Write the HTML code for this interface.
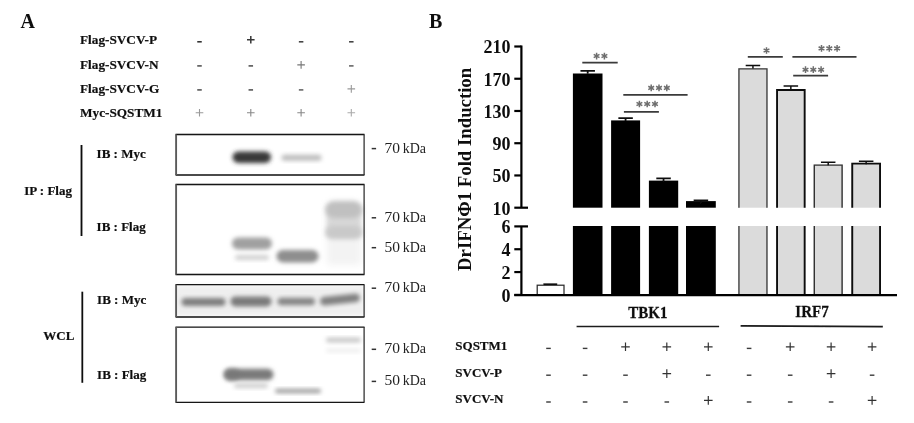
<!DOCTYPE html>
<html><head><meta charset="utf-8"><style>
html,body{margin:0;padding:0;background:#fff;width:914px;height:423px;overflow:hidden}
svg{display:block}
</style></head><body>
<svg width="914" height="423" viewBox="0 0 914 423">
<defs>
<filter id="b1" x="-50%" y="-50%" width="200%" height="200%"><feGaussianBlur stdDeviation="2.0"/></filter>
<filter id="b2" x="-50%" y="-50%" width="200%" height="200%"><feGaussianBlur stdDeviation="2.4"/></filter>
<filter id="b3" x="-50%" y="-50%" width="200%" height="200%"><feGaussianBlur stdDeviation="3.5"/></filter>
<filter id="s" x="-10%" y="-10%" width="120%" height="120%"><feGaussianBlur stdDeviation="0.6"/></filter>
</defs>
<rect width="914" height="423" fill="#fff"/>
<g filter="url(#s)">
<text x="20.5" y="28" font-family="Liberation Serif" font-weight="bold" font-size="20" text-anchor="start" fill="#111" >A</text>
<text x="429" y="28" font-family="Liberation Serif" font-weight="bold" font-size="20" text-anchor="start" fill="#111" >B</text>
<text transform="translate(80,44.4) scale(1,1.0001)" font-family="Liberation Serif" font-weight="bold" font-size="13.25" text-anchor="start" fill="#111" stroke="#111" stroke-width="0.2">Flag-SVCV-P</text>
<text transform="translate(80,68.7) scale(1,1.0001)" font-family="Liberation Serif" font-weight="bold" font-size="13.25" text-anchor="start" fill="#111" stroke="#111" stroke-width="0.2">Flag-SVCV-N</text>
<text transform="translate(80,93.0) scale(1,1.0001)" font-family="Liberation Serif" font-weight="bold" font-size="13.25" text-anchor="start" fill="#111" stroke="#111" stroke-width="0.2">Flag-SVCV-G</text>
<text transform="translate(80,117.3) scale(1,1.0001)" font-family="Liberation Serif" font-weight="bold" font-size="13.25" text-anchor="start" fill="#111" stroke="#111" stroke-width="0.2">Myc-SQSTM1</text>
<path d="M197.25,41.8H201.75" stroke="#333" stroke-width="1.6" fill="none"/>
<path d="M247.0,39.8H254.60000000000002M250.8,36.0V43.599999999999994" stroke="#383838" stroke-width="1.5" fill="none"/>
<path d="M298.85,41.8H303.35" stroke="#444" stroke-width="1.6" fill="none"/>
<path d="M349.05,41.8H353.55" stroke="#444" stroke-width="1.6" fill="none"/>
<path d="M197.25,65.9H201.75" stroke="#555" stroke-width="1.6" fill="none"/>
<path d="M248.55,65.9H253.05" stroke="#555" stroke-width="1.6" fill="none"/>
<path d="M297.3,64.9H304.90000000000003M301.1,61.10000000000001V68.7" stroke="#777" stroke-width="1.1" fill="none"/>
<path d="M349.05,65.9H353.55" stroke="#666" stroke-width="1.6" fill="none"/>
<path d="M197.25,89.9H201.75" stroke="#555" stroke-width="1.6" fill="none"/>
<path d="M248.55,89.9H253.05" stroke="#555" stroke-width="1.6" fill="none"/>
<path d="M298.85,89.9H303.35" stroke="#666" stroke-width="1.6" fill="none"/>
<path d="M347.5,88.9H355.1M351.3,85.10000000000001V92.7" stroke="#999" stroke-width="1.1" fill="none"/>
<path d="M195.7,112.8H203.3M199.5,109.0V116.6" stroke="#999" stroke-width="1.1" fill="none"/>
<path d="M247.0,112.8H254.60000000000002M250.8,109.0V116.6" stroke="#888" stroke-width="1.1" fill="none"/>
<path d="M297.3,112.8H304.90000000000003M301.1,109.0V116.6" stroke="#888" stroke-width="1.1" fill="none"/>
<path d="M347.5,112.8H355.1M351.3,109.0V116.6" stroke="#aaa" stroke-width="1.1" fill="none"/>
</g>
<rect x="176" y="285" width="188" height="31" fill="#efefef" filter="url(#b1)"/>
<rect x="232.5" y="151.45" width="38.5" height="11.5" rx="5.75" fill="#383838" opacity="1" filter="url(#b1)"/>
<rect x="281.5" y="154.8" width="40.0" height="6" rx="3.0" fill="#bdbdbd" opacity="1" filter="url(#b1)"/>
<rect x="232" y="237.5" width="40" height="12" rx="6.0" fill="#a0a0a0" opacity="1" filter="url(#b1)"/>
<rect x="235" y="255.0" width="34" height="5" rx="2.5" fill="#d0d0d0" opacity="1" filter="url(#b1)"/>
<rect x="276.5" y="249.95" width="42.0" height="12.5" rx="6.25" fill="#8e8e8e" opacity="1" filter="url(#b1)"/>
<rect x="327" y="205" width="34" height="60" fill="#f3f3f3" filter="url(#b3)"/>
<rect x="327" y="206" width="34" height="30" fill="#d8d8d8" filter="url(#b2)"/>
<rect x="325.5" y="201.0" width="36.5" height="17" rx="8.5" fill="#c0c0c0" opacity="1" filter="url(#b2)"/>
<rect x="325.5" y="226.0" width="36.5" height="13" rx="6.5" fill="#c9c9c9" opacity="1" filter="url(#b2)"/>
<rect x="181.5" y="298.0" width="44.0" height="8" rx="4.0" fill="#7e7e7e" opacity="1" filter="url(#b1)"/>
<rect x="230.5" y="296.4" width="41.0" height="10" rx="5.0" fill="#7a7a7a" opacity="1" filter="url(#b1)"/>
<rect x="277.5" y="297.85" width="37.5" height="7.5" rx="3.75" fill="#858585" opacity="1" filter="url(#b1)"/>
<rect x="320" y="295.25" width="40" height="8.5" rx="4.25" fill="#808080" opacity="1" filter="url(#b1)" transform="rotate(-6 340.0 299.5)"/>
<rect x="224" y="368.75" width="49.5" height="11.5" rx="5.75" fill="#7a7a7a" opacity="1" filter="url(#b1)"/>
<rect x="224" y="368.5" width="16" height="12" rx="6.0" fill="#777" opacity="0.6" filter="url(#b1)"/>
<rect x="234" y="383.3" width="34" height="5" rx="2.5" fill="#d0d0d0" opacity="1" filter="url(#b1)"/>
<rect x="275" y="388.85" width="46" height="4.5" rx="2.25" fill="#a0a0a0" opacity="1" filter="url(#b1)"/>
<rect x="326" y="337.6" width="35" height="5" rx="2.5" fill="#c8c8c8" opacity="1" filter="url(#b1)"/>
<rect x="326" y="348.6" width="35" height="4" rx="2.0" fill="#eeeeee" opacity="1" filter="url(#b1)"/>
<g filter="url(#s)">
<path d="M175.5,134.5H364.5M175.5,175H364.5" stroke="#151515" stroke-width="1.3" fill="none"/>
<path d="M176.1,134.5V175" stroke="#5a5a5a" stroke-width="1.9" fill="none"/>
<path d="M364.1,134.5V175" stroke="#333" stroke-width="1.3" fill="none"/>
<path d="M175.5,184.5H364.5M175.5,274.5H364.5" stroke="#151515" stroke-width="1.3" fill="none"/>
<path d="M176.1,184.5V274.5" stroke="#5a5a5a" stroke-width="1.9" fill="none"/>
<path d="M364.1,184.5V274.5" stroke="#333" stroke-width="1.3" fill="none"/>
<path d="M175.5,284.7H364.5M175.5,317H364.5" stroke="#151515" stroke-width="1.3" fill="none"/>
<path d="M176.1,284.7V317" stroke="#5a5a5a" stroke-width="1.9" fill="none"/>
<path d="M364.1,284.7V317" stroke="#333" stroke-width="1.3" fill="none"/>
<path d="M175.5,327.1H364.5M175.5,402.3H364.5" stroke="#151515" stroke-width="1.3" fill="none"/>
<path d="M176.1,327.1V402.3" stroke="#5a5a5a" stroke-width="1.9" fill="none"/>
<path d="M364.1,327.1V402.3" stroke="#333" stroke-width="1.3" fill="none"/>
<path d="M81.5,145V236" stroke="#111" stroke-width="1.8"/>
<path d="M82.3,291.7V382.8" stroke="#111" stroke-width="1.8"/>
<text transform="translate(96.6,158) scale(1,1.0001)" font-family="Liberation Serif" font-weight="bold" font-size="13.0" text-anchor="start" fill="#111" stroke="#111" stroke-width="0.2">IB : Myc</text>
<text transform="translate(24.3,194.8) scale(1,1.0001)" font-family="Liberation Serif" font-weight="bold" font-size="13.0" text-anchor="start" fill="#111" stroke="#111" stroke-width="0.2">IP : Flag</text>
<text transform="translate(96.6,231.3) scale(1,1.0001)" font-family="Liberation Serif" font-weight="bold" font-size="13.0" text-anchor="start" fill="#111" stroke="#111" stroke-width="0.2">IB : Flag</text>
<text transform="translate(97.1,304) scale(1,1.0001)" font-family="Liberation Serif" font-weight="bold" font-size="13.0" text-anchor="start" fill="#111" stroke="#111" stroke-width="0.2">IB : Myc</text>
<text transform="translate(43.3,339.8) scale(1,1.0001)" font-family="Liberation Serif" font-weight="bold" font-size="13.0" text-anchor="start" fill="#111" stroke="#111" stroke-width="0.2">WCL</text>
<text transform="translate(97.1,379.4) scale(1,1.0001)" font-family="Liberation Serif" font-weight="bold" font-size="13.0" text-anchor="start" fill="#111" stroke="#111" stroke-width="0.2">IB : Flag</text>
<path d="M371.7,148.6H376.09999999999997" stroke="#333" stroke-width="1.5" fill="none"/>
<text x="384.5" y="152.5" font-family="Liberation Serif" fill="#222"><tspan font-size="15.5">70</tspan><tspan font-size="14" dx="-0.8"> kDa</tspan></text>
<path d="M371.7,217.8H376.09999999999997" stroke="#333" stroke-width="1.5" fill="none"/>
<text x="384.5" y="221.70000000000002" font-family="Liberation Serif" fill="#222"><tspan font-size="15.5">70</tspan><tspan font-size="14" dx="-0.8"> kDa</tspan></text>
<path d="M371.7,247.7H376.09999999999997" stroke="#333" stroke-width="1.5" fill="none"/>
<text x="384.5" y="251.6" font-family="Liberation Serif" fill="#222"><tspan font-size="15.5">50</tspan><tspan font-size="14" dx="-0.8"> kDa</tspan></text>
<path d="M371.7,288.2H376.09999999999997" stroke="#333" stroke-width="1.5" fill="none"/>
<text x="384.5" y="292.09999999999997" font-family="Liberation Serif" fill="#222"><tspan font-size="15.5">70</tspan><tspan font-size="14" dx="-0.8"> kDa</tspan></text>
<path d="M371.7,349.3H376.09999999999997" stroke="#333" stroke-width="1.5" fill="none"/>
<text x="384.5" y="353.2" font-family="Liberation Serif" fill="#222"><tspan font-size="15.5">70</tspan><tspan font-size="14" dx="-0.8"> kDa</tspan></text>
<path d="M371.7,381.4H376.09999999999997" stroke="#333" stroke-width="1.5" fill="none"/>
<text x="384.5" y="385.29999999999995" font-family="Liberation Serif" fill="#222"><tspan font-size="15.5">50</tspan><tspan font-size="14" dx="-0.8"> kDa</tspan></text>
<path d="M521.4,45.5V207.7M521.4,226.4V294.9" stroke="#000" stroke-width="2.2"/>
<path d="M514.3,46.5H521.4" stroke="#000" stroke-width="2.2"/>
<text x="510.6" y="53.3" font-family="Liberation Serif" font-weight="bold" font-size="18" text-anchor="end" fill="#111" >210</text>
<path d="M514.3,78.73999999999998H521.4" stroke="#000" stroke-width="2.2"/>
<text x="510.6" y="85.53999999999998" font-family="Liberation Serif" font-weight="bold" font-size="18" text-anchor="end" fill="#111" >170</text>
<path d="M514.3,110.97999999999999H521.4" stroke="#000" stroke-width="2.2"/>
<text x="510.6" y="117.77999999999999" font-family="Liberation Serif" font-weight="bold" font-size="18" text-anchor="end" fill="#111" >130</text>
<path d="M514.3,143.21999999999997H521.4" stroke="#000" stroke-width="2.2"/>
<text x="510.6" y="150.01999999999998" font-family="Liberation Serif" font-weight="bold" font-size="18" text-anchor="end" fill="#111" >90</text>
<path d="M514.3,175.45999999999998H521.4" stroke="#000" stroke-width="2.2"/>
<text x="510.6" y="182.26" font-family="Liberation Serif" font-weight="bold" font-size="18" text-anchor="end" fill="#111" >50</text>
<path d="M514.3,207.7H528" stroke="#000" stroke-width="2.2"/>
<text x="510.6" y="214.5" font-family="Liberation Serif" font-weight="bold" font-size="18" text-anchor="end" fill="#111" >10</text>
<path d="M514.3,226.4H528" stroke="#000" stroke-width="2.2"/>
<text x="510.6" y="233.20000000000002" font-family="Liberation Serif" font-weight="bold" font-size="18" text-anchor="end" fill="#111" >6</text>
<path d="M514.3,249.23333333333332H521.4" stroke="#000" stroke-width="2.2"/>
<text x="510.6" y="256.0333333333333" font-family="Liberation Serif" font-weight="bold" font-size="18" text-anchor="end" fill="#111" >4</text>
<path d="M514.3,272.06666666666666H521.4" stroke="#000" stroke-width="2.2"/>
<text x="510.6" y="278.8666666666667" font-family="Liberation Serif" font-weight="bold" font-size="18" text-anchor="end" fill="#111" >2</text>
<path d="M514.3,294.9H521.4" stroke="#000" stroke-width="2.2"/>
<text x="510.6" y="301.7" font-family="Liberation Serif" font-weight="bold" font-size="18" text-anchor="end" fill="#111" >0</text>
<text transform="translate(470.5,169.4) rotate(-90)" font-family="Liberation Serif" font-weight="bold" font-size="18.75" text-anchor="middle" fill="#111">DrIFN&#934;1 Fold Induction</text>
<rect x="537.2" y="285.2" width="26.8" height="9.699999999999989" fill="#fff" stroke="#2a2a2a" stroke-width="1.25"/>
<path d="M543.4,284.2H557.1999999999999M550.3,284.2V284.2" stroke="#111" stroke-width="1.7"/>
<rect x="572.9" y="176.0" width="29.600000000000023" height="0" fill="none"/>
<rect x="611.1" y="118.8" width="29.0" height="0" fill="none"/>
<rect x="648.9" y="44.4" width="29.300000000000068" height="0" fill="none"/>
<rect x="686" y="17.5" width="29.799999999999955" height="0" fill="none"/>
<rect x="572.9" y="73.5" width="29.600000000000023" height="134.2" fill="#000"/>
<rect x="572.9" y="226" width="29.600000000000023" height="68.89999999999998" fill="#000"/>
<path d="M580.45,70.8H594.95M587.7,70.8V73.8" stroke="#111" stroke-width="1.8"/>
<rect x="611.1" y="120.4" width="29.0" height="87.29999999999998" fill="#000"/>
<rect x="611.1" y="226" width="29.0" height="68.89999999999998" fill="#000"/>
<path d="M618.35,118.1H632.85M625.6,118.1V121.1" stroke="#111" stroke-width="1.8"/>
<rect x="648.9" y="180.6" width="29.300000000000068" height="27.099999999999994" fill="#000"/>
<rect x="648.9" y="226" width="29.300000000000068" height="68.89999999999998" fill="#000"/>
<path d="M656.3,178.4H670.8M663.55,178.4V181.4" stroke="#111" stroke-width="1.8"/>
<rect x="686" y="201.1" width="29.799999999999955" height="6.599999999999994" fill="#000"/>
<rect x="686" y="226" width="29.799999999999955" height="68.89999999999998" fill="#000"/>
<path d="M693.65,200.4H708.15M700.9,200.4V203.4" stroke="#111" stroke-width="1.8"/>
<rect x="738.3" y="68.2" width="29.300000000000068" height="139.5" fill="#dbdbdb"/>
<path d="M738.9499999999999,207.7V68.85000000000001H766.95V207.7" stroke="#3a3a3a" stroke-width="1.3" fill="none"/>
<rect x="738.3" y="226" width="29.300000000000068" height="68.89999999999998" fill="#dbdbdb"/>
<path d="M738.9499999999999,226V294.9M766.95,226V294.9" stroke="#3a3a3a" stroke-width="1.3"/>
<path d="M745.7,65.4H760.2M752.95,65.4V68.4" stroke="#111" stroke-width="1.5"/>
<rect x="776.1" y="89.0" width="29.5" height="118.69999999999999" fill="#dbdbdb"/>
<path d="M777.0500000000001,207.7V89.95H804.65V207.7" stroke="#111" stroke-width="1.9" fill="none"/>
<rect x="776.1" y="226" width="29.5" height="68.89999999999998" fill="#dbdbdb"/>
<path d="M777.0500000000001,226V294.9M804.65,226V294.9" stroke="#111" stroke-width="1.9"/>
<path d="M783.6,86.1H798.1M790.85,86.1V89.1" stroke="#111" stroke-width="1.5"/>
<rect x="813.6" y="164.4" width="29.199999999999932" height="43.29999999999998" fill="#dbdbdb"/>
<path d="M814.3000000000001,207.7V165.1H842.0999999999999V207.7" stroke="#333" stroke-width="1.4" fill="none"/>
<rect x="813.6" y="226" width="29.199999999999932" height="68.89999999999998" fill="#dbdbdb"/>
<path d="M814.3000000000001,226V294.9M842.0999999999999,226V294.9" stroke="#333" stroke-width="1.4"/>
<path d="M820.95,162.3H835.45M828.2,162.3V165.3" stroke="#111" stroke-width="1.5"/>
<rect x="851.3" y="162.7" width="29.700000000000045" height="45.0" fill="#dbdbdb"/>
<path d="M852.25,207.7V163.64999999999998H880.05V207.7" stroke="#111" stroke-width="1.9" fill="none"/>
<rect x="851.3" y="226" width="29.700000000000045" height="68.89999999999998" fill="#dbdbdb"/>
<path d="M852.25,226V294.9M880.05,226V294.9" stroke="#111" stroke-width="1.9"/>
<path d="M858.9,161.3H873.4M866.15,161.3V164.3" stroke="#111" stroke-width="1.5"/>
<path d="M514.3,295.09999999999997H897" stroke="#000" stroke-width="2.2"/>
<path d="M582.3,62.7H617.7" stroke="#3a3a3a" stroke-width="1.8"/>
<path d="M596.6,52.699999999999996V59.4M593.70,54.38L599.50,57.72M593.70,57.72L599.50,54.38" stroke="#6e6e6e" stroke-width="1.5" fill="none"/>
<path d="M604.4,52.699999999999996V59.4M601.50,54.38L607.30,57.72M601.50,57.72L607.30,54.38" stroke="#6e6e6e" stroke-width="1.5" fill="none"/>
<path d="M623.3,94.8H687.6" stroke="#3a3a3a" stroke-width="1.8"/>
<path d="M651.2,84.55000000000001V91.25M648.30,86.23L654.10,89.58M648.30,89.58L654.10,86.23" stroke="#6e6e6e" stroke-width="1.5" fill="none"/>
<path d="M659.0,84.55000000000001V91.25M656.10,86.23L661.90,89.58M656.10,89.58L661.90,86.23" stroke="#6e6e6e" stroke-width="1.5" fill="none"/>
<path d="M666.8,84.55000000000001V91.25M663.90,86.23L669.70,89.58M663.90,89.58L669.70,86.23" stroke="#6e6e6e" stroke-width="1.5" fill="none"/>
<path d="M623.9,111.8H658.9" stroke="#3a3a3a" stroke-width="1.8"/>
<path d="M639.4000000000001,100.65V107.35M636.50,102.33L642.30,105.67M636.50,105.67L642.30,102.33" stroke="#6e6e6e" stroke-width="1.5" fill="none"/>
<path d="M647.2,100.65V107.35M644.30,102.33L650.10,105.67M644.30,105.67L650.10,102.33" stroke="#6e6e6e" stroke-width="1.5" fill="none"/>
<path d="M655.0,100.65V107.35M652.10,102.33L657.90,105.67M652.10,105.67L657.90,102.33" stroke="#6e6e6e" stroke-width="1.5" fill="none"/>
<path d="M747.8,56.8H782.8" stroke="#3a3a3a" stroke-width="1.8"/>
<path d="M766.5,47.15V53.85M763.60,48.83L769.40,52.17M763.60,52.17L769.40,48.83" stroke="#6e6e6e" stroke-width="1.5" fill="none"/>
<path d="M792.4,56.8H856.5" stroke="#3a3a3a" stroke-width="1.8"/>
<path d="M821.5,45.05V51.75M818.60,46.73L824.40,50.07M818.60,50.07L824.40,46.73" stroke="#6e6e6e" stroke-width="1.5" fill="none"/>
<path d="M829.3,45.05V51.75M826.40,46.73L832.20,50.07M826.40,50.07L832.20,46.73" stroke="#6e6e6e" stroke-width="1.5" fill="none"/>
<path d="M837.0999999999999,45.05V51.75M834.20,46.73L840.00,50.07M834.20,50.07L840.00,46.73" stroke="#6e6e6e" stroke-width="1.5" fill="none"/>
<path d="M793.2,75.7H828.1" stroke="#3a3a3a" stroke-width="1.8"/>
<path d="M805.5,66.35000000000001V73.05M802.60,68.03L808.40,71.38M802.60,71.38L808.40,68.03" stroke="#6e6e6e" stroke-width="1.5" fill="none"/>
<path d="M813.3,66.35000000000001V73.05M810.40,68.03L816.20,71.38M810.40,71.38L816.20,68.03" stroke="#6e6e6e" stroke-width="1.5" fill="none"/>
<path d="M821.0999999999999,66.35000000000001V73.05M818.20,68.03L824.00,71.38M818.20,71.38L824.00,68.03" stroke="#6e6e6e" stroke-width="1.5" fill="none"/>
<text transform="translate(647.8,317.7) scale(1,1.1)" font-family="Liberation Serif" font-weight="bold" font-size="15.0" text-anchor="middle" fill="#111" stroke="#111" stroke-width="0.25">TBK1</text>
<text transform="translate(812,317.3) scale(1,1.1)" font-family="Liberation Serif" font-weight="bold" font-size="15.0" text-anchor="middle" fill="#111" stroke="#111" stroke-width="0.25">IRF7</text>
<path d="M576.6,326.5H719.1" stroke="#1a1a1a" stroke-width="1.7"/>
<path d="M740.6,325.8L882.8,326.7" stroke="#1a1a1a" stroke-width="1.8"/>
<text transform="translate(455.3,350.2) scale(1,1.0001)" font-family="Liberation Serif" font-weight="bold" font-size="13.0" text-anchor="start" fill="#111" stroke="#111" stroke-width="0.2">SQSTM1</text>
<text transform="translate(455.3,376.8) scale(1,1.0001)" font-family="Liberation Serif" font-weight="bold" font-size="13.0" text-anchor="start" fill="#111" stroke="#111" stroke-width="0.2">SVCV-P</text>
<text transform="translate(455.3,403.4) scale(1,1.0001)" font-family="Liberation Serif" font-weight="bold" font-size="13.0" text-anchor="start" fill="#111" stroke="#111" stroke-width="0.2">SVCV-N</text>
<path d="M546.2,348.4H550.8" stroke="#3a3a3a" stroke-width="1.4" fill="none"/>
<path d="M582.8000000000001,348.4H587.4" stroke="#3a3a3a" stroke-width="1.4" fill="none"/>
<path d="M621.2,346.79999999999995H629.8M625.5,342.49999999999994V351.09999999999997" stroke="#333" stroke-width="1.2" fill="none"/>
<path d="M662.5,346.79999999999995H671.0999999999999M666.8,342.49999999999994V351.09999999999997" stroke="#333" stroke-width="1.2" fill="none"/>
<path d="M704.0,346.79999999999995H712.5999999999999M708.3,342.49999999999994V351.09999999999997" stroke="#333" stroke-width="1.2" fill="none"/>
<path d="M746.8000000000001,348.4H751.4" stroke="#3a3a3a" stroke-width="1.4" fill="none"/>
<path d="M785.9000000000001,346.79999999999995H794.5M790.2,342.49999999999994V351.09999999999997" stroke="#333" stroke-width="1.2" fill="none"/>
<path d="M826.8000000000001,346.79999999999995H835.4M831.1,342.49999999999994V351.09999999999997" stroke="#333" stroke-width="1.2" fill="none"/>
<path d="M867.8000000000001,346.79999999999995H876.4M872.1,342.49999999999994V351.09999999999997" stroke="#333" stroke-width="1.2" fill="none"/>
<path d="M546.2,375.2H550.8" stroke="#3a3a3a" stroke-width="1.4" fill="none"/>
<path d="M582.8000000000001,375.2H587.4" stroke="#3a3a3a" stroke-width="1.4" fill="none"/>
<path d="M623.2,375.2H627.8" stroke="#3a3a3a" stroke-width="1.4" fill="none"/>
<path d="M662.5,373.59999999999997H671.0999999999999M666.8,369.29999999999995V377.9" stroke="#333" stroke-width="1.2" fill="none"/>
<path d="M706.0,375.2H710.5999999999999" stroke="#3a3a3a" stroke-width="1.4" fill="none"/>
<path d="M746.8000000000001,375.2H751.4" stroke="#3a3a3a" stroke-width="1.4" fill="none"/>
<path d="M787.9000000000001,375.2H792.5" stroke="#3a3a3a" stroke-width="1.4" fill="none"/>
<path d="M826.8000000000001,373.59999999999997H835.4M831.1,369.29999999999995V377.9" stroke="#333" stroke-width="1.2" fill="none"/>
<path d="M869.8000000000001,375.2H874.4" stroke="#3a3a3a" stroke-width="1.4" fill="none"/>
<path d="M546.2,402H550.8" stroke="#3a3a3a" stroke-width="1.4" fill="none"/>
<path d="M582.8000000000001,402H587.4" stroke="#3a3a3a" stroke-width="1.4" fill="none"/>
<path d="M623.2,402H627.8" stroke="#3a3a3a" stroke-width="1.4" fill="none"/>
<path d="M664.5,402H669.0999999999999" stroke="#3a3a3a" stroke-width="1.4" fill="none"/>
<path d="M704.0,400.4H712.5999999999999M708.3,396.09999999999997V404.7" stroke="#333" stroke-width="1.2" fill="none"/>
<path d="M746.8000000000001,402H751.4" stroke="#3a3a3a" stroke-width="1.4" fill="none"/>
<path d="M787.9000000000001,402H792.5" stroke="#3a3a3a" stroke-width="1.4" fill="none"/>
<path d="M828.8000000000001,402H833.4" stroke="#3a3a3a" stroke-width="1.4" fill="none"/>
<path d="M867.8000000000001,400.4H876.4M872.1,396.09999999999997V404.7" stroke="#333" stroke-width="1.2" fill="none"/>
</g>
</svg>
</body></html>
